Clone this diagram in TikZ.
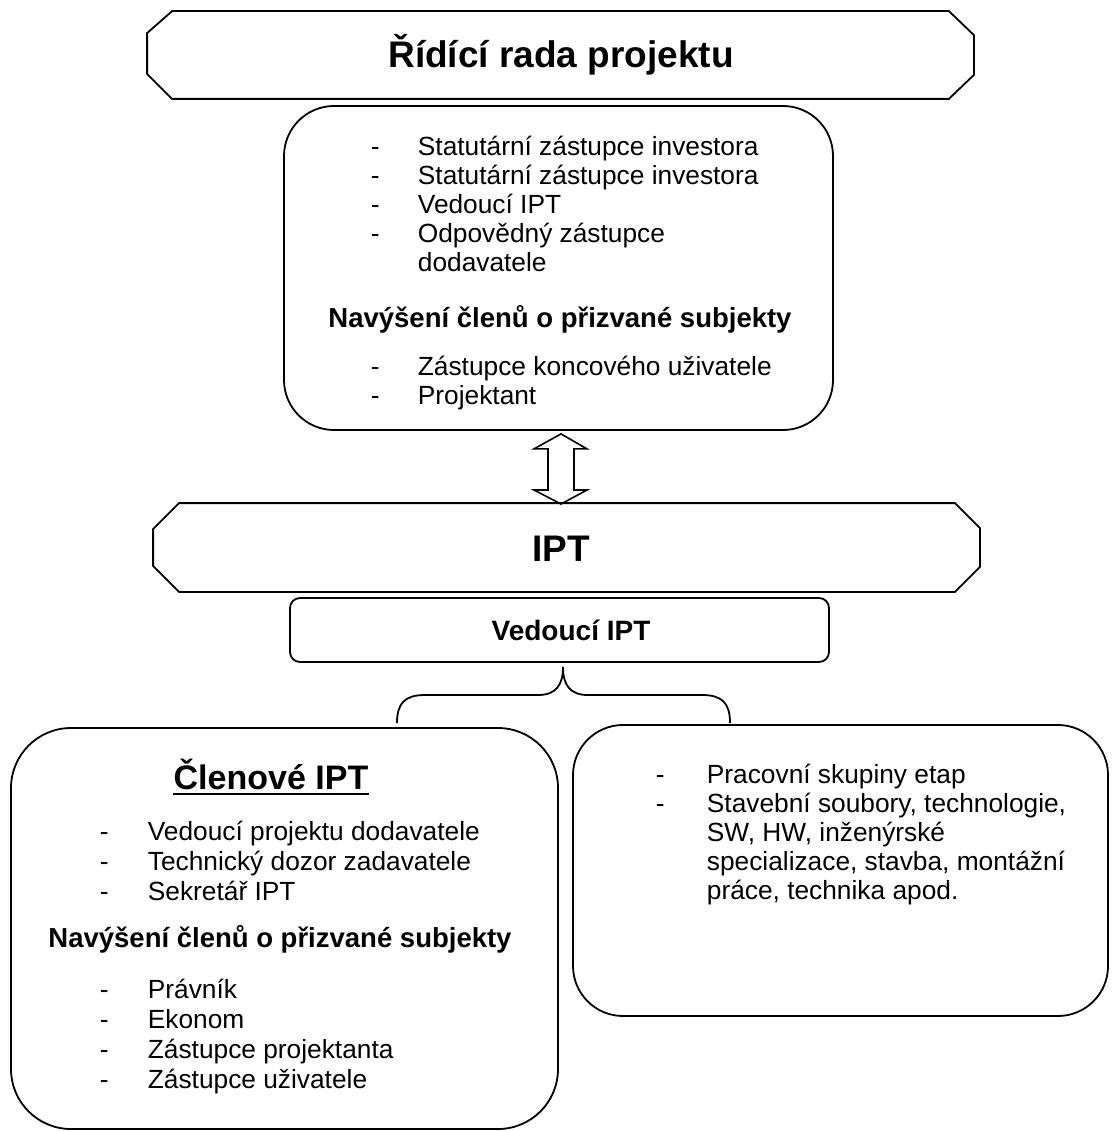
\documentclass[tikz,border=0pt]{standalone}
\usepackage{fontspec}
\setmainfont{Liberation Sans}
\usetikzlibrary{calc}
\begin{document}
\begin{tikzpicture}[x=1pt,y=-1pt,line width=1.8pt,
  bx/.style={draw,inner sep=0pt,line width=1.8pt},
  ghost/.style={inner sep=0pt,draw=none},
  txt/.style={anchor=base west,inner sep=0pt,font=\fontsize{26.3}{29}\selectfont},
  dsh/.style={anchor=base west,inner sep=0pt,font=\fontsize{26.3}{29}\selectfont},
  bhead/.style={anchor=base,inner sep=0pt,font=\fontsize{27.5}{30}\selectfont\bfseries},
  bigt/.style={anchor=base,inner sep=0pt,font=\fontsize{37}{42}\selectfont\bfseries}]
\useasboundingbox (0,0) rectangle (1112,1131);

% ---- title banner
\node[ghost,minimum width=825,minimum height=86] (title) at (560.5,55) {};
\draw ($(title.north west)+(25,0)$) -- ($(title.north east)+(-25,0)$)
  -- ($(title.north east)+(0,24)$) -- ($(title.south east)+(0,-24)$)
  -- ($(title.south east)+(-25,0)$) -- ($(title.south west)+(25,0)$)
  -- ($(title.south west)+(0,-25)$) -- ($(title.north west)+(0,22)$) -- cycle;
\node[bigt] (titletxt) at (561,68) {Řídící rada projektu};

% ---- board box
\node[bx,rounded corners=50,minimum width=549,minimum height=324] (board) at (558.5,268) {};
\foreach \y/\t [count=\i] in {156/Statutární zástupce investora,185/Statutární zástupce investora,214/Vedoucí IPT,243/Odpovědný zástupce}{
  \node[dsh] (bd\i) at (370,\y) {-};
  \node[txt] (bt\i) at (417,\y) {\t};
}
\node[txt] (bt5) at (417,272) {dodavatele};
\node[bhead] (bh) at (560,327) {Navýšení členů o přizvané subjekty};
\node[dsh] (bd6) at (370,375) {-};
\node[txt] (bt6) at (417,375) {Zástupce koncového uživatele};
\node[dsh] (bd7) at (370,404) {-};
\node[txt] (bt7) at (417,404) {Projektant};

% ---- IPT banner
\node[ghost,minimum width=825,minimum height=87] (ipt) at (566.5,547.5) {};
\draw ($(ipt.north west)+(26,0)$) -- ($(ipt.north east)+(-25,0)$)
  -- ($(ipt.north east)+(0,25)$) -- ($(ipt.south east)+(0,-25)$)
  -- ($(ipt.south east)+(-25,0)$) -- ($(ipt.south west)+(26,0)$)
  -- ($(ipt.south west)+(0,-26)$) -- ($(ipt.north west)+(0,26)$) -- cycle;
\node[bigt] (ipttxt) at (561,561) {IPT};

% ---- double arrow between board and IPT
\coordinate (at) at ($(board.south)+(2.5,3)$);
\coordinate (ab) at (561,504);
\draw[line width=1.6pt,line join=miter] (at) -- ++(26,15) -- ++(-13,0) -- ($(ab)+(13,-14)$) -- ++(13,0) -- (ab)
  -- ++(-27,-14) -- ++(14,0) -- ($(at)+(-13,15)$) -- ++(-14,0) -- cycle;

% ---- Vedouci IPT
\node[bx,rounded corners=10,minimum width=539,minimum height=64] (ved) at (559.5,630) {};
\node[bhead,font=\fontsize{28}{31}\selectfont\bfseries] (vedtxt) at (571,640) {Vedoucí IPT};

% ---- brace
\coordinate (bl) at (397,723);
\coordinate (br) at (730,723);
\coordinate (btip) at (563,667);
\draw (bl) .. controls (397,703) and (405,695) .. (425,695) -- (538,695)
  .. controls (556,695) and (563,685) .. (btip)
  .. controls (563,685) and (570,695) .. (588,695) -- (702,695)
  .. controls (722,695) and (730,703) .. (br);

% ---- left box: Clenove IPT
\node[bx,rounded corners=60,minimum width=547,minimum height=401] (memb) at (284.5,928.5) {};
\node[bigt,font=\fontsize{34}{38}\selectfont\bfseries] (clen) at (271,789) {Členové IPT};
\draw[line width=2.2pt] ($(clen.base west)+(0,5)$) -- ($(clen.base east)+(0,5)$);
\foreach \y/\t [count=\i] in {840/Vedoucí projektu dodavatele,870/Technický dozor zadavatele,900/Sekretář IPT}{
  \node[dsh] (md\i) at (99,\y) {-};
  \node[txt] (mt\i) at (147,\y) {\t};
}
\node[bhead] (mh) at (280,947) {Navýšení členů o přizvané subjekty};
\foreach \y/\t [count=\i from 4] in {998/Právník,1028/Ekonom,1058/Zástupce projektanta,1088/Zástupce uživatele}{
  \node[dsh] (md\i) at (99,\y) {-};
  \node[txt] (mt\i) at (147,\y) {\t};
}

% ---- right box: working groups
\node[bx,rounded corners=50,minimum width=535,minimum height=291] (grp) at (840.5,870.5) {};
\node[dsh] (gd1) at (655,783) {-};
\node[txt] (gt1) at (706,783) {Pracovní skupiny etap};
\node[dsh] (gd2) at (655,812) {-};
\node[txt] (gt2) at (706,812) {Stavební soubory, technologie,};
\node[txt] (gt3) at (706,841) {SW, HW, inženýrské};
\node[txt] (gt4) at (706,870) {specializace, stavba, montážní};
\node[txt] (gt5) at (706,899) {práce, technika apod.};
\end{tikzpicture}
\end{document}
